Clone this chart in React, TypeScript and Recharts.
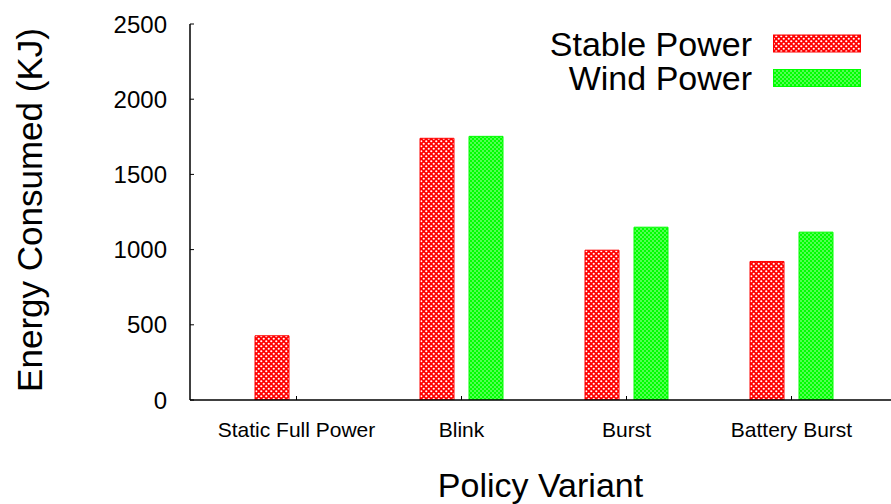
import React from 'react';
import { BarChart, Bar, XAxis, YAxis } from 'recharts';

// Energy consumed per policy variant, in kilojoules
const categories = ['Static Full Power', 'Blink', 'Burst', 'Battery Burst'];
const stablePower = [427, 1740, 996, 921];
const windPower: (number | null)[] = [null, 1753, 1149, 1116];
const yTicks = [0, 500, 1000, 1500, 2000, 2500];

const series = [
  { key: 'stable', name: 'Stable Power', color: '#ff0000', pattern: 'hatch-red' },
  { key: 'wind', name: 'Wind Power', color: '#00ff00', pattern: 'hatch-green' },
];

const data = categories.map((c, i) => ({
  category: c,
  stable: stablePower[i],
  wind: windPower[i],
}));

const FONT = '"Liberation Sans", Arial, Helvetica, sans-serif';

const PatternDefs = () => (
  <svg width={0} height={0} style={{ position: 'absolute' }}>
    <defs>
      <pattern id="hatch-red" width={5} height={5} patternUnits="userSpaceOnUse">
        <rect width={5} height={5} fill="#ff0000" />
        <circle cx={1.25} cy={1.25} r={1.1} fill="#ffffff" />
        <circle cx={3.75} cy={3.75} r={1.1} fill="#ffffff" />
      </pattern>
      <pattern id="hatch-green" width={4} height={4} patternUnits="userSpaceOnUse">
        <rect width={4} height={4} fill="#00ff00" />
        <circle cx={1} cy={1} r={0.75} fill="#ccffcc" />
        <circle cx={3} cy={3} r={0.75} fill="#ccffcc" />
      </pattern>
    </defs>
  </svg>
);

// Key in the top-right corner, laid over the plot
const LegendBox = () => (
  <svg width={340} height={80} style={{ position: 'absolute', left: 540, top: 20 }}>
    {series.map((s, i) => {
      const cy = 23.5 + i * 34.5;
      return (
        <g key={s.key}>
          <text
            x={212}
            y={cy}
            textAnchor="end"
            dominantBaseline="central"
            fontFamily={FONT}
            fontSize={34}
            fill="#000"
          >
            {s.name}
          </text>
          <rect
            x={233.5}
            y={cy - 8.5}
            width={87}
            height={17}
            fill={`url(#${s.pattern})`}
            stroke={s.color}
            strokeWidth={1}
          />
        </g>
      );
    })}
  </svg>
);

export default function App() {
  return (
    <div style={{ position: 'absolute', left: 0, top: 0, width: 891, height: 504, background: '#fff' }}>
      <PatternDefs />
      <BarChart
        width={891}
        height={504}
        data={data}
        margin={{ top: 24, right: 0, bottom: 0, left: 0 }}
        barGap={15}
        barSize={34}
        style={{ fontFamily: FONT }}
      >
        <XAxis
          dataKey="category"
          height={104}
          padding={{ left: 24, right: 17 }}
          axisLine={{ stroke: '#000', strokeWidth: 1.5 }}
          tickLine={{ stroke: '#000' }}
          tickSize={-4}
          tickMargin={26}
          tick={{ fill: '#000', fontSize: 21, fontFamily: FONT }}
          interval={0}
          label={{ value: 'Policy Variant', position: 'center', dy: 33, fill: '#000', fontSize: 34, fontFamily: FONT }}
        />
        <YAxis
          width={190}
          domain={[0, 2500]}
          ticks={yTicks}
          allowDataOverflow
          axisLine={{ stroke: '#000', strokeWidth: 1.5 }}
          tickLine={{ stroke: '#000' }}
          tickSize={-4}
          tickMargin={27}
          tick={{ fill: '#000', fontSize: 24, fontFamily: FONT }}
          label={{ value: 'Energy Consumed (KJ)', angle: -90, position: 'center', dx: -65, dy: -2, fill: '#000', fontSize: 35, fontFamily: FONT }}
        />
        {series.map((s) => (
          <Bar
            key={s.key}
            dataKey={s.key}
            name={s.name}
            fill={`url(#${s.pattern})`}
            stroke={s.color}
            strokeWidth={1}
            isAnimationActive={false}
          />
        ))}
      </BarChart>
      <LegendBox />
    </div>
  );
}
